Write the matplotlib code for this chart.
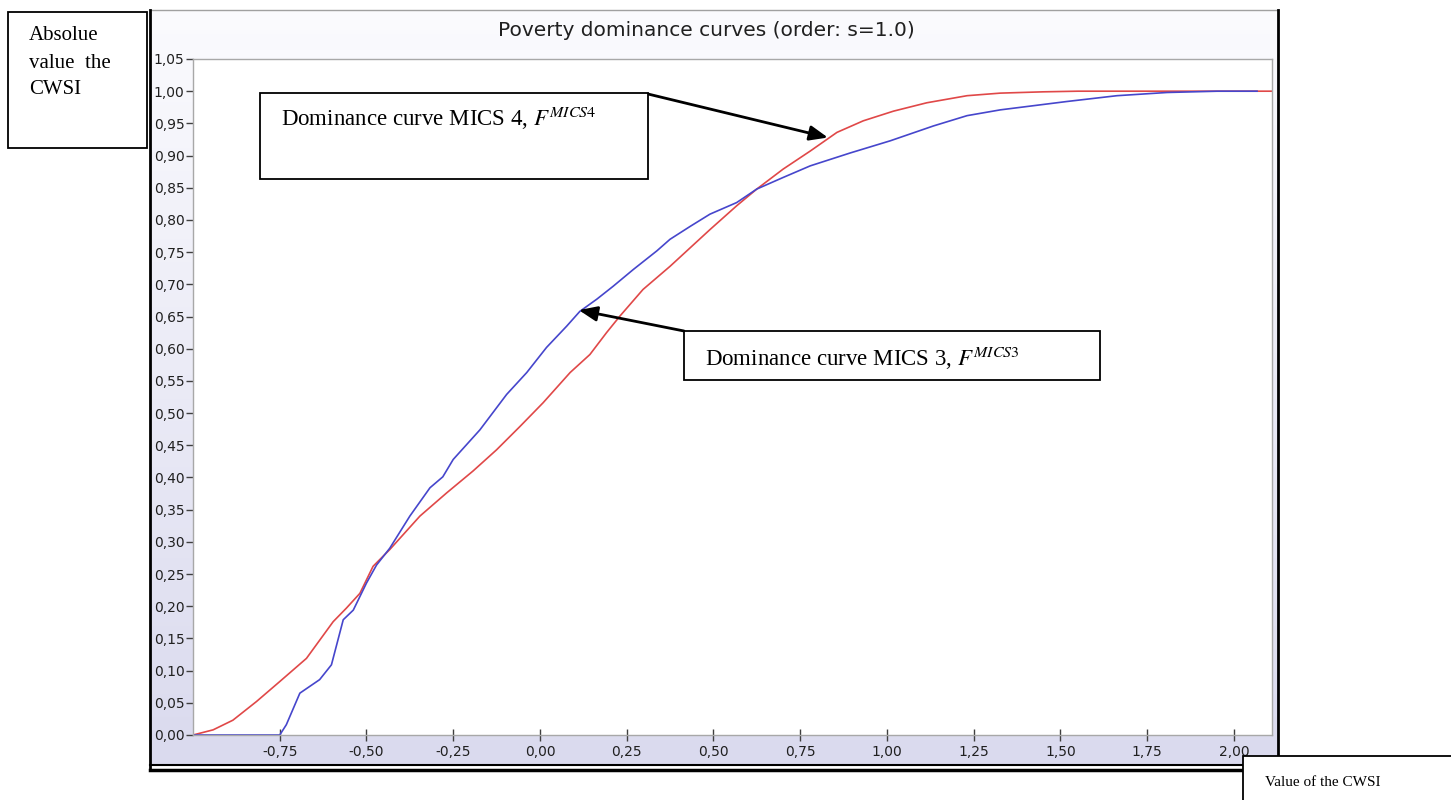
import numpy as np
import matplotlib
matplotlib.use("Agg")
import matplotlib.pyplot as plt
from matplotlib.colors import LinearSegmentedColormap
from matplotlib.patches import Rectangle
from matplotlib.lines import Line2D
from matplotlib.ticker import FuncFormatter

# dominance curve of MICS 4 (red)
mics4_x = [-1.0, -0.942, -0.885, -0.817, -0.75, -0.673, -0.596, -0.558, -0.519,
           -0.481, -0.433, -0.346, -0.269, -0.193, -0.125, -0.058, 0.009, 0.087,
           0.144, 0.192, 0.231, 0.297, 0.375, 0.49, 0.567, 0.625, 0.701, 0.779,
           0.856, 0.932, 1.019, 1.115, 1.231, 1.327, 1.45, 1.55, 2.11]
mics4_y = [0.0, 0.008, 0.023, 0.052, 0.083, 0.119, 0.176, 0.197, 0.22,
           0.262, 0.288, 0.34, 0.376, 0.41, 0.443, 0.479, 0.516, 0.563,
           0.591, 0.625, 0.651, 0.692, 0.728, 0.785, 0.822, 0.848, 0.879, 0.907,
           0.936, 0.954, 0.969, 0.982, 0.993, 0.997, 0.999, 1.0, 1.0]

# dominance curve of MICS 3 (blue)
mics3_x = [-1.0, -0.75, -0.731, -0.692, -0.635, -0.601, -0.567, -0.538, -0.5,
           -0.471, -0.433, -0.375, -0.317, -0.28, -0.25, -0.173, -0.096, -0.038,
           0.019, 0.077, 0.115, 0.164, 0.211, 0.269, 0.337, 0.375, 0.433, 0.49,
           0.567, 0.625, 0.701, 0.779, 0.894, 1.01, 1.134, 1.231, 1.327, 1.519,
           1.663, 1.808, 1.952, 2.067]
mics3_y = [0.0, 0.0, 0.016, 0.065, 0.086, 0.109, 0.179, 0.194, 0.236,
           0.264, 0.29, 0.34, 0.384, 0.401, 0.428, 0.474, 0.529, 0.563,
           0.602, 0.635, 0.658, 0.677, 0.697, 0.723, 0.752, 0.77, 0.79, 0.809,
           0.827, 0.848, 0.866, 0.884, 0.904, 0.923, 0.946, 0.962, 0.971, 0.984,
           0.993, 0.998, 1.0, 1.0]

x_ticks = [-0.75, -0.5, -0.25, 0.0, 0.25, 0.5, 0.75, 1.0, 1.25, 1.5, 1.75, 2.0]
y_ticks = [round(0.05 * i, 2) for i in range(22)]

title_text = 'Poverty dominance curves (order: s=1.0)'
label_mics4 = r'Dominance curve MICS 4, $F^{MICS\mathrm{4}}$'
label_mics3 = r'Dominance curve MICS 3, $F^{MICS\mathrm{3}}$'

plt.rcParams['mathtext.fontset'] = 'stix'

W, H = 1451, 800
fig = plt.figure(figsize=(W / 100, H / 100), dpi=100, facecolor='white')


def fx(x):
    return x / W


def fy(y):
    return 1 - y / H


# gradient panel behind the chart
bg = fig.add_axes([fx(150), fy(764), fx(1278) - fx(150), fy(10) - fy(764)], zorder=0)
grad = np.linspace(0, 1, 256).reshape(-1, 1)
cmap = LinearSegmentedColormap.from_list('panel', ['#fbfbfe', '#dadaee'])
bg.imshow(grad, aspect='auto', cmap=cmap, extent=[0, 1, 1, 0])
bg.set_axis_off()

ax = fig.add_axes([fx(193), fy(735), fx(1272) - fx(193), fy(59) - fy(735)], zorder=1)
ax.set_facecolor('white')
ax.plot(mics4_x, mics4_y, color='#e04848', lw=1.2)
ax.plot(mics3_x, mics3_y, color='#4646cc', lw=1.2)
ax.set_xlim(-1.0, 2.11)
ax.set_ylim(0, 1.05)
ax.set_xticks(x_ticks)
ax.set_yticks(y_ticks)
comma = FuncFormatter(lambda v, p: f'{v:.2f}'.replace('.', ','))
ax.xaxis.set_major_formatter(comma)
ax.yaxis.set_major_formatter(comma)
for s in ax.spines.values():
    s.set_color('#a8a8a8')
    s.set_linewidth(1.0)
ax.tick_params(axis='x', direction='inout', length=8, width=1, color='#404040',
               labelsize=10, pad=3, labelcolor='#202020')
ax.tick_params(axis='y', direction='out', length=5, width=1, color='#404040',
               labelsize=10, pad=1, labelcolor='#202020')

fig.text(fx(706), fy(30), title_text, ha='center', va='center', fontsize=14.5,
         color='#202020')

# panel border lines
for xs, ys, c, lw in [([150, 1278], [10, 10], '#a0a0a0', 1.0),
                      ([150, 150], [10, 770], 'black', 2.0),
                      ([1278, 1278], [10, 760], 'black', 2.0),
                      ([150, 1245], [765, 765], 'black', 1.5),
                      ([150, 1245], [770, 770], 'black', 2.5)]:
    fig.add_artist(Line2D([fx(v) for v in xs], [fy(v) for v in ys], color=c, lw=lw,
                          transform=fig.transFigure))


def box(x0, y0, x1, y1):
    fig.add_artist(Rectangle((fx(x0), fy(y1)), fx(x1) - fx(x0), fy(y0) - fy(y1),
                             transform=fig.transFigure, facecolor='white',
                             edgecolor='black', lw=1.3, zorder=5))


serif = 'Liberation Serif'

box(8, 12, 147, 148)
for txt, yy in [('Absolue', 36), ('value  the', 63), ('CWSI', 90)]:
    fig.text(fx(29), fy(yy), txt, family=serif, fontsize=15, va='center', zorder=6)

box(260, 93, 648, 179)
fig.text(fx(281), fy(118), label_mics4, family=serif, fontsize=16.5, va='center', zorder=6)

box(684, 331, 1100, 380)
fig.text(fx(705), fy(358), label_mics3, family=serif, fontsize=16.5, va='center', zorder=6)

box(1243, 756, 1470, 820)
fig.text(fx(1265), fy(782), 'Value of the CWSI', family=serif, fontsize=11,
         va='center', zorder=6)

# arrows from the label boxes to the curves
arrow = dict(arrowstyle='-|>,head_length=1.1,head_width=0.45',
             color='black', lw=2, shrinkA=0, shrinkB=0)
ax.annotate('', xy=(0.83, 0.928), xycoords='data',
            xytext=(fx(648), fy(94)), textcoords='figure fraction',
            arrowprops=arrow, zorder=7, annotation_clip=False)
ax.annotate('', xy=(0.112, 0.66), xycoords='data',
            xytext=(fx(684), fy(331)), textcoords='figure fraction',
            arrowprops=arrow, zorder=7, annotation_clip=False)

fig.savefig('out.png', dpi=100, facecolor='white')
